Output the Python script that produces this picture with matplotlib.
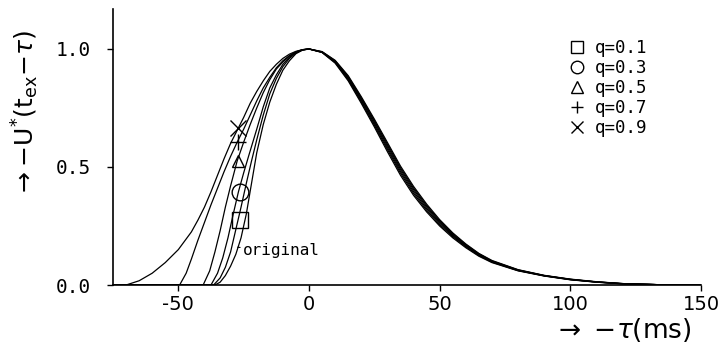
import matplotlib
matplotlib.use('Agg')
import matplotlib.pyplot as plt
from matplotlib.lines import Line2D

# rising parts (tau in ms, U*)
orig_tau = [-75, -36, -34, -32, -30, -28, -26, -24, -22, -20, -17.5, -15, -12.5, -10, -7.5, -5, -2.5, 0]
orig_u = [0, 0, 0.012, 0.04, 0.08, 0.13, 0.2, 0.3, 0.43, 0.56, 0.68, 0.775, 0.85, 0.91, 0.95, 0.98, 0.995, 1.0]

q1_tau = [-75, -36.5, -34, -32, -30, -28, -26, -24, -22, -20, -17.5, -15, -12.5, -10, -7.5, -5, -2.5, 0]
q1_u = [0, 0, 0.03, 0.075, 0.14, 0.235, 0.33, 0.43, 0.525, 0.615, 0.72, 0.81, 0.875, 0.925, 0.96, 0.983, 0.996, 1.0]

q3_tau = [-75, -37.5, -35, -33, -31, -29, -27, -25, -23, -20, -17.5, -15, -12.5, -10, -7.5, -5, -2.5, 0]
q3_u = [0, 0, 0.05, 0.115, 0.2, 0.3, 0.395, 0.475, 0.55, 0.66, 0.755, 0.835, 0.89, 0.935, 0.965, 0.985, 0.996, 1.0]

q5_tau = [-75, -40.5, -38, -36, -34, -32, -30, -27.5, -25, -22.5, -20, -17.5, -15, -12.5, -10, -7.5, -5, -2.5, 0]
q5_u = [0, 0, 0.06, 0.14, 0.23, 0.33, 0.42, 0.525, 0.605, 0.68, 0.75, 0.815, 0.87, 0.915, 0.945, 0.97, 0.987, 0.997, 1.0]

q7_tau = [-75, -49.5, -47, -45, -42.5, -40, -37.5, -35, -32.5, -30, -27.5, -25, -22.5, -20, -17.5, -15, -12.5, -10, -7.5, -5, -2.5, 0]
q7_u = [0, 0, 0.05, 0.11, 0.19, 0.265, 0.34, 0.41, 0.48, 0.545, 0.605, 0.66, 0.72, 0.78, 0.835, 0.88, 0.92, 0.95, 0.972, 0.988, 0.997, 1.0]

q9_tau = [-75, -70, -65, -60, -55, -50, -45, -42.5, -40, -37.5, -35, -32.5, -30, -27.5, -25, -22.5, -20, -17.5, -15, -12.5, -10, -7.5, -5, -2.5, 0]
q9_u = [0, 0, 0.018, 0.05, 0.095, 0.15, 0.225, 0.275, 0.33, 0.395, 0.465, 0.535, 0.6, 0.655, 0.71, 0.77, 0.82, 0.865, 0.905, 0.935, 0.96, 0.978, 0.99, 0.997, 1.0]

# falling parts, same tau grid for all curves
fall_tau = [5, 10, 15, 20, 25, 30, 35, 40, 45, 50, 55, 60, 65, 70, 80, 90, 100, 110, 120, 135, 150]
orig_fall = [0.985, 0.94, 0.865, 0.77, 0.67, 0.565, 0.465, 0.38, 0.31, 0.25, 0.2, 0.158, 0.122, 0.095, 0.06, 0.038, 0.022, 0.012, 0.005, 0.001, 0.0]
q1_fall = [0.986, 0.943, 0.87, 0.776, 0.677, 0.574, 0.474, 0.388, 0.317, 0.256, 0.205, 0.162, 0.125, 0.097, 0.061, 0.039, 0.023, 0.012, 0.005, 0.001, 0.0]
q3_fall = [0.986, 0.946, 0.875, 0.782, 0.684, 0.582, 0.482, 0.396, 0.324, 0.262, 0.209, 0.165, 0.128, 0.099, 0.062, 0.039, 0.023, 0.013, 0.005, 0.001, 0.0]
q5_fall = [0.987, 0.948, 0.879, 0.788, 0.691, 0.59, 0.49, 0.404, 0.331, 0.267, 0.213, 0.168, 0.13, 0.101, 0.063, 0.04, 0.024, 0.013, 0.006, 0.001, 0.0]
q7_fall = [0.988, 0.95, 0.883, 0.793, 0.697, 0.597, 0.497, 0.411, 0.337, 0.272, 0.217, 0.171, 0.132, 0.102, 0.064, 0.04, 0.024, 0.013, 0.006, 0.001, 0.0]
q9_fall = [0.989, 0.952, 0.887, 0.798, 0.703, 0.604, 0.504, 0.418, 0.343, 0.277, 0.221, 0.174, 0.134, 0.104, 0.065, 0.041, 0.025, 0.014, 0.006, 0.001, 0.0]

q_labels = ['q=0.1', 'q=0.3', 'q=0.5', 'q=0.7', 'q=0.9']
q_markers = ['s', 'o', '^', '+', 'x']
marker_tau = [-26.5, -26.5, -27, -27, -27]
marker_u = [0.275, 0.395, 0.525, 0.605, 0.665]

fig = plt.figure(figsize=(7.22, 3.5), dpi=100)
ax = fig.add_axes([0.1565, 0.1857, 0.8144, 0.789])

curves = [(orig_tau, orig_u, orig_fall), (q1_tau, q1_u, q1_fall), (q3_tau, q3_u, q3_fall),
          (q5_tau, q5_u, q5_fall), (q7_tau, q7_u, q7_fall), (q9_tau, q9_u, q9_fall)]
for t, u, f in curves:
    ax.plot(t + fall_tau, u + f, color='black', lw=0.9)

msizes = [11, 12, 9, 12, 11]
for i in range(5):
    ax.plot(marker_tau[i], marker_u[i], marker=q_markers[i], ms=msizes[i], mfc='none',
            mec='black', mew=1.0, linestyle='none')

ax.annotate('original', xy=(-27.3, 0.16), xytext=(-25.3, 0.145),
            fontsize=11.5, family='DejaVu Sans Mono', va='center', ha='left',
            arrowprops=dict(arrowstyle='-', lw=0.8, color='black', shrinkA=0, shrinkB=0))

ax.set_xlim(-75, 150)
ax.set_ylim(0, 1.17)
ax.spines['top'].set_visible(False)
ax.spines['right'].set_visible(False)
ax.spines['left'].set_linewidth(1.2)
ax.spines['bottom'].set_linewidth(1.2)
ax.set_xticks([-50, 0, 50, 100, 150])
ax.set_yticks([0, 0.5, 1.0])
ax.set_yticklabels(['0.0', '0.5', '1.0'], family='DejaVu Sans Mono', fontsize=14)
ax.set_xticklabels(['-50', '0', '50', '100', '150'], fontsize=14)
ax.tick_params(direction='out', length=4, width=1.0)
ax.tick_params(axis='x', pad=3)
ax.tick_params(axis='y', pad=12)

handles = [Line2D([], [], marker=m, color='black', mfc='none', linestyle='none', ms=9, mew=1.0)
           for m in q_markers]
leg = ax.legend(handles, q_labels, loc='upper left', bbox_to_anchor=(0.757, 0.935),
                frameon=False, handlelength=0.8, handletextpad=0.6, labelspacing=0.12,
                borderpad=0.2, prop={'family': 'DejaVu Sans Mono', 'size': 12.5})

fig.text(0.035, 0.675, r'$\rightarrow{-}\mathrm{U}^{*}(\mathrm{t}_{\mathrm{ex}}{-}\tau)$',
         rotation=90, fontsize=18, ha='center', va='center')
fig.text(0.862, 0.058, r'$\rightarrow\ {-}\tau$(ms)', fontsize=19, ha='center', va='center')

fig.savefig('out.png', dpi=100)
